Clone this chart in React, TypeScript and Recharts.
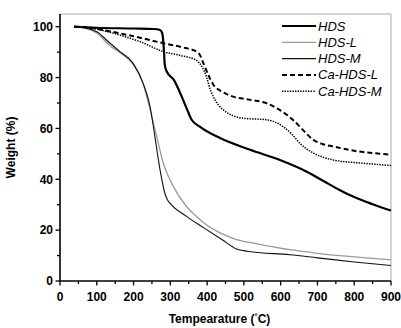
import React from "react";
import { LineChart, Line, XAxis, YAxis, ReferenceLine } from "recharts";

// temperatures (°C) and remaining weight (%)
const hdsT = [38, 100, 200, 255, 272, 278, 282, 285, 290, 310, 331, 344, 358, 380, 435, 517, 598, 671, 720, 760, 800, 850, 900];
const hdsW = [100, 99.6, 99.3, 99.1, 98.7, 97.5, 92, 85, 82.5, 79, 72.5, 68, 63.4, 60.7, 56.2, 51.6, 47.6, 43, 39, 35.8, 33, 30.2, 27.7];

const hdsLT = [38, 70, 100, 136, 163, 199, 226, 245, 263, 281, 308, 344, 371, 399, 435, 480, 526, 625, 700, 800, 900];
const hdsLW = [100, 99.3, 97.5, 92.5, 89.8, 85.2, 77.5, 67.3, 56.8, 46.3, 37.2, 29.3, 25.4, 22, 18.9, 16.3, 14.9, 12.3, 10.9, 9.5, 8.3];

const hdsMT = [38, 70, 100, 136, 163, 199, 226, 245, 258, 272, 285, 292, 299, 344, 390, 440, 480, 510, 625, 700, 800, 900];
const hdsMW = [100, 99.5, 98, 93.5, 90.2, 85.6, 77.8, 68.6, 56.8, 43.7, 34.6, 32, 30.6, 25.4, 21, 16.3, 12.6, 11.7, 10.3, 9.1, 7.5, 6.1];

const caLT = [38, 80, 120, 163, 220, 281, 330, 371, 380, 390, 405, 417, 440, 471, 520, 562, 600, 630, 652, 670, 689, 715, 743, 800, 850, 900];
const caLW = [100, 99.6, 98.6, 97.4, 95.6, 93.5, 92, 90.2, 89, 85.6, 80.5, 77.2, 74.5, 72.5, 71.2, 69.9, 67, 63.8, 60.7, 58, 55.5, 53.8, 52.9, 51.2, 50.3, 49.7];

const caMT = [38, 80, 120, 163, 220, 281, 330, 371, 385, 399, 408, 417, 444, 498, 562, 607, 630, 652, 670, 689, 743, 800, 850, 900];
const caMW = [100, 99.5, 98.4, 96.7, 94, 90.2, 88.6, 86.8, 84.5, 80, 75.5, 72.5, 67.3, 64, 63.4, 60.7, 57.8, 54.2, 52, 50.3, 47.6, 46.6, 46, 45.4];

const xTicks = [0, 50, 100, 150, 200, 250, 300, 350, 400, 450, 500, 550, 600, 650, 700, 750, 800, 850, 900];
const yTicks = [0, 10, 20, 30, 40, 50, 60, 70, 80, 90, 100];

const toRows = (t: number[], w: number[]) => t.map((x, i) => ({ t: x, w: w[i] }));

const series = [
  { name: "HDS", data: toRows(hdsT, hdsW), color: "#000", width: 2.2, dash: undefined },
  { name: "HDS-L", data: toRows(hdsLT, hdsLW), color: "#999", width: 1.3, dash: undefined },
  { name: "HDS-M", data: toRows(hdsMT, hdsMW), color: "#111", width: 1.1, dash: undefined },
  { name: "Ca-HDS-L", data: toRows(caLT, caLW), color: "#000", width: 2, dash: "5 3" },
  { name: "Ca-HDS-M", data: toRows(caMT, caMW), color: "#000", width: 1.5, dash: "1.4 1.2" },
];

const font = "'Liberation Sans', Arial, sans-serif";

const XTick = ({ x, y, payload }: any) => {
  const major = payload.value % 100 === 0;
  return (
    <g>
      <line x1={x} x2={x} y1={y} y2={y + (major ? 4.5 : 3)} stroke="#000" strokeWidth={1.3} />
      {major && (
        <text x={x} y={y + 20} textAnchor="middle" fontFamily={font} fontWeight="bold" fontSize={12} fill="#000">
          {payload.value}
        </text>
      )}
    </g>
  );
};

const YTick = ({ x, y, payload }: any) => {
  const major = payload.value % 20 === 0;
  return (
    <g>
      <line x1={x - (major ? 4.5 : 3)} x2={x} y1={y} y2={y} stroke="#000" strokeWidth={1.3} />
      {major && (
        <text x={x - 7} y={y + 4.3} textAnchor="end" fontFamily={font} fontWeight="bold" fontSize={12} fill="#000">
          {payload.value}
        </text>
      )}
    </g>
  );
};

// legend drawn as an overlay so it doesn't eat into the plot area
const LegendBox = () => (
  <svg width={120} height={90} style={{ position: "absolute", left: 280, top: 16 }}>
    {series.map((s, i) => (
      <g key={s.name}>
        <line x1={2} x2={36} y1={10 + i * 16.3} y2={10 + i * 16.3} stroke={s.color} strokeWidth={s.width} strokeDasharray={s.dash} />
        <text x={38} y={14.5 + i * 16.3} fontFamily={font} fontStyle="italic" fontSize={13} fill="#000">
          {s.name}
        </text>
      </g>
    ))}
  </svg>
);

export default function App() {
  return (
    <div style={{ position: "absolute", left: 0, top: 0, width: 401, height: 328 }}>
      <LineChart width={401} height={328} margin={{ top: 14, right: 10, left: 0, bottom: 0 }}>
        <XAxis
          dataKey="t"
          type="number"
          domain={[0, 900]}
          ticks={xTicks}
          interval={0}
          tickSize={0}
          tickMargin={0}
          tickLine={false}
          tick={<XTick />}
          height={47}
          axisLine={{ stroke: "#000", strokeWidth: 1.6 }}
          allowDuplicatedCategory={false}
          label={({ viewBox }: any) => (
            <text x={viewBox.x + viewBox.width / 2 - 6} y={viewBox.y + 42} textAnchor="middle" fontFamily={font} fontWeight="bold" fontSize={12} fill="#000">
              Tempearature (<tspan dy={-4} fontSize={8}>°</tspan><tspan dy={4}>C)</tspan>
            </text>
          )}
        />
        <YAxis
          dataKey="w"
          type="number"
          domain={[0, 105]}
          ticks={yTicks}
          interval={0}
          tickSize={0}
          tickMargin={0}
          tickLine={false}
          tick={<YTick />}
          width={60}
          axisLine={{ stroke: "#000", strokeWidth: 1.6 }}
          label={({ viewBox }: any) => (
            <text x={21} y={viewBox.y + viewBox.height / 2} transform={`rotate(-90 21 ${viewBox.y + viewBox.height / 2})`} textAnchor="middle" fontFamily={font} fontWeight="bold" fontSize={12} fill="#000" dy={-6}>
              Weight (%)
            </text>
          )}
        />
        <ReferenceLine y={105} stroke="#aaa" strokeWidth={1} />
        <ReferenceLine x={900} stroke="#aaa" strokeWidth={1} />
        {series.map((s) => (
          <Line
            key={s.name}
            data={s.data}
            dataKey="w"
            name={s.name}
            type="monotone"
            stroke={s.color}
            strokeWidth={s.width}
            strokeDasharray={s.dash}
            dot={false}
            activeDot={false}
            isAnimationActive={false}
          />
        ))}
      </LineChart>
      <LegendBox />
    </div>
  );
}
